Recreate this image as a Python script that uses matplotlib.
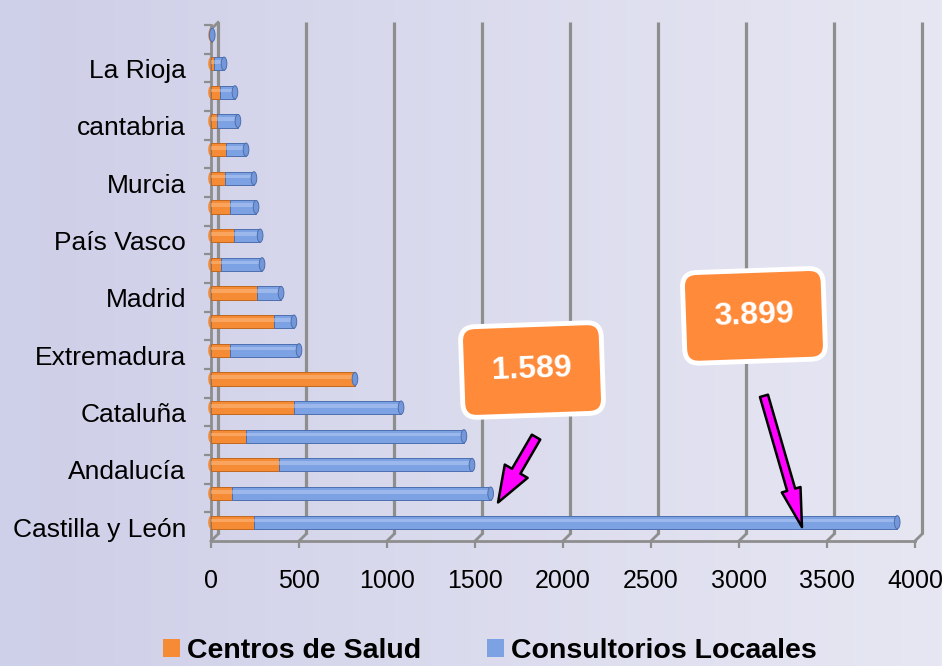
import numpy as np
import matplotlib
matplotlib.use("Agg")
import matplotlib.pyplot as plt
import matplotlib.transforms as mtransforms
from matplotlib.patches import Ellipse, Patch, FancyArrowPatch

plt.rcParams['font.family'] = ['Liberation Sans', 'DejaVu Sans']

# Datos (de abajo hacia arriba)
comunidades = ['Castilla y León', 'Aragón', 'Andalucía', 'Castilla-La Mancha',
               'Cataluña', 'C. Valenciana', 'Extremadura', 'Galicia', 'Madrid',
               'Navarra', 'País Vasco', 'Canarias', 'Murcia', 'Asturias',
               'cantabria', 'Baleares', 'La Rioja', 'Ceuta y Melilla']
centros_salud = [247, 119, 386, 199, 472, 818, 108, 358, 261,
                 57, 131, 108, 80, 85, 34, 51, 17, 4]
consultorios = [3652, 1470, 1097, 1238, 608, 0, 392, 113, 137,
                233, 148, 148, 164, 114, 119, 85, 57, 3]
x_ticks = [0, 500, 1000, 1500, 2000, 2500, 3000, 3500, 4000]
etiquetas = ['1.589', '3.899']

orange = '#f68b35'
orange_edge = '#c0661e'
blue = '#7da2e4'
blue_edge = '#4d6fae'
grid_c = '#8e8e8e'

fig = plt.figure(figsize=(9.42, 6.66), dpi=100)

# fondo degradado
bg = fig.add_axes([0, 0, 1, 1], zorder=-10)
grad = np.linspace(0, 1, 256)[None, :]
c0 = np.array([206, 207, 232]) / 255
c1 = np.array([231, 231, 243]) / 255
img = c0[None, None, :] * (1 - grad[..., None]) + c1[None, None, :] * grad[..., None]
bg.imshow(img, aspect='auto', extent=[0, 1, 0, 1])
bg.axis('off')

ax = fig.add_axes([0.224, 0.1877, 0.7473, 0.7748])
ax.patch.set_alpha(0)
ax.set_xlim(0, 4000)
ax.set_ylim(-0.655, 17.2)

# pared / rejilla trasera (efecto 3D)
dx, dy = 40, 0.24
for t in x_ticks:
    ax.plot([t + dx, t + dx], [-0.655 + dy, 17.2 + dy], color=grid_c, lw=2.3,
            zorder=1, clip_on=False, solid_capstyle='butt')
    ax.plot([t + dx, t], [-0.655 + dy, -0.655], color=grid_c, lw=2.0,
            zorder=1, clip_on=False)
ax.plot([0, dx], [17.2, 17.2 + dy], color=grid_c, lw=2.0, clip_on=False)

y = np.arange(len(comunidades))
cs = np.array(centros_salud)
cl = np.array(consultorios)
total = cs + cl
h = 0.46
cap_w = 32

ax.barh(y, cs, height=h, color=orange, edgecolor=orange_edge, lw=0.7, zorder=3)
ax.barh(y, cl, left=cs, height=h, color=blue, edgecolor=blue_edge, lw=0.7, zorder=3)
# brillo del cilindro
ax.barh(y + 0.06, cs, height=0.13, color='#ffc08a', alpha=0.5, lw=0, zorder=4)
ax.barh(y + 0.06, cl, left=cs, height=0.13, color='#b9cdf5', alpha=0.5, lw=0, zorder=4)
for yi, tv in zip(y, total):
    ax.add_patch(Ellipse((0, yi), cap_w, h, facecolor=orange, edgecolor='none',
                         zorder=2, clip_on=False))
    ax.add_patch(Ellipse((tv, yi), cap_w, h, facecolor='#7397d8', edgecolor=blue_edge,
                         lw=0.7, zorder=5, clip_on=False))

# ejes
for s in ['top', 'right']:
    ax.spines[s].set_visible(False)
for s in ['left', 'bottom']:
    ax.spines[s].set_color(grid_c)
    ax.spines[s].set_linewidth(2.0)

ax.set_xticks(x_ticks)
ax.set_xticklabels([str(t) for t in x_ticks], fontsize=18)
ax.tick_params(axis='x', length=5, width=1.6, color=grid_c, pad=15)

ax.set_yticks(y)
ax.set_yticklabels([n if i % 2 == 0 else '' for i, n in enumerate(comunidades)],
                   fontsize=19)
ax.tick_params(axis='y', which='major', length=0, pad=18)
ax.set_yticks(np.arange(len(comunidades)) + 0.5 - 0.15, minor=True)
ax.tick_params(axis='y', which='minor', length=5, width=1.6, color=grid_c)
shift = mtransforms.ScaledTranslation(0, -5 / 100, fig.dpi_scale_trans)
for lab in ax.get_yticklabels():
    lab.set_transform(lab.get_transform() + shift)

# cuadros de anotación
box = dict(boxstyle='round,pad=0.95,rounding_size=0.45', facecolor='#ff8a3a',
           edgecolor='white', lw=3.5)
ax.text(1824, 5.31, etiquetas[0], fontsize=23, fontweight='bold', color='white',
        ha='center', va='center', rotation=2, bbox=box, zorder=6)
ax.text(3085, 7.2, etiquetas[1], fontsize=23, fontweight='bold', color='white',
        ha='center', va='center', rotation=2, bbox=box, zorder=6)

# flechas
arr1 = FancyArrowPatch((1847, 2.97), (1631, 0.69), mutation_scale=1,
                       arrowstyle='simple,head_length=26,head_width=19,tail_width=7',
                       facecolor='#ff00ff', edgecolor='black', lw=1.8,
                       shrinkA=0, shrinkB=0, zorder=7)
arr2 = FancyArrowPatch((3142, 4.41), (3358, -0.17), mutation_scale=1,
                       arrowstyle='simple,head_length=28,head_width=14,tail_width=6',
                       facecolor='#ff00ff', edgecolor='black', lw=1.8,
                       shrinkA=0, shrinkB=0, zorder=7)
ax.add_patch(arr1)
ax.add_patch(arr2)

handles = [Patch(facecolor=orange, edgecolor='none', label='Centros de Salud'),
           Patch(facecolor=blue, edgecolor='none', label='Consultorios Locaales')]
fig.legend(handles=handles, loc='center', bbox_to_anchor=(0.52, 0.022), ncol=2,
           frameon=False, prop={'size': 20.5, 'weight': 'bold'},
           handlelength=0.6, handleheight=0.6, handletextpad=0.25,
           columnspacing=2.3)

fig.savefig('out.png', dpi=100)
